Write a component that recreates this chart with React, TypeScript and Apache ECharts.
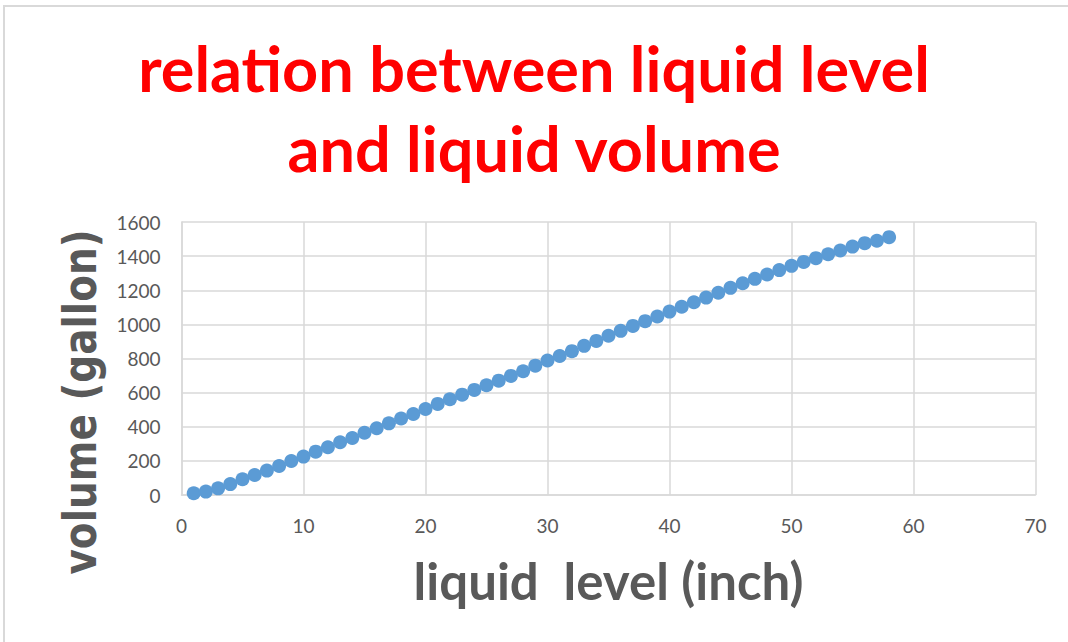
import React, { useEffect, useRef } from "react";
import * as echarts from "echarts";

const levels: number[] = [
  1, 2, 3, 4, 5, 6, 7, 8, 9, 10, 11, 12, 13, 14, 15, 16, 17, 18, 19, 20,
  21, 22, 23, 24, 25, 26, 27, 28, 29, 30, 31, 32, 33, 34, 35, 36, 37, 38, 39, 40,
  41, 42, 43, 44, 45, 46, 47, 48, 49, 50, 51, 52, 53, 54, 55, 56, 57, 58,
];
const volumes: number[] = [
  10, 20, 39, 64, 92, 117, 143, 170, 199, 225, 254, 280, 309, 334, 365, 391, 420, 448, 475, 504,
  534, 561, 588, 616, 643, 670, 698, 725, 758, 788, 815, 843, 874, 903, 933, 962, 991, 1019, 1046, 1075,
  1103, 1130, 1157, 1185, 1214, 1241, 1267, 1292, 1318, 1343, 1366, 1388, 1411, 1433, 1456, 1476, 1490, 1511,
];
const titleLines: string[] = ["relation between liquid level", "and liquid volume"];
const xTitle = "liquid  level (inch)";
const yTitle = "volume (gallon)";

export default function App() {
  const ref = useRef<HTMLDivElement>(null);
  useEffect(() => {
    if (!ref.current) return;
    const chart = echarts.init(ref.current, null, { renderer: "svg" });
    const gray = "#595959";
    chart.setOption({
      animation: false,
      backgroundColor: "#ffffff",
      title: {
        text: titleLines.join("\n"),
        left: "center",
        top: 22,
        textStyle: {
          color: "#FF0000",
          fontFamily: "Lato",
          fontWeight: "bold",
          fontSize: 63,
          lineHeight: 80,
        },
      },
      graphic: [
        {
          type: "rect",
          shape: { x: 4, y: 6, width: 1200, height: 800 },
          style: { fill: "none", stroke: "#D9D9D9", lineWidth: 2 },
          silent: true,
        },
        {
          type: "text",
          x: 80,
          y: 402,
          rotation: Math.PI / 2,
          scaleY: 1.2,
          style: {
            text: yTitle,
            fill: gray,
            font: "bold 39px 'DejaVu Sans'",
            align: "center",
            verticalAlign: "middle",
          },
          silent: true,
        },
      ],
      grid: { left: 181.5, right: 32.5, top: 222, bottom: 147, containLabel: false },
      xAxis: {
        type: "value",
        min: 0,
        max: 70,
        interval: 10,
        name: xTitle,
        nameLocation: "middle",
        nameGap: 60,
        nameTextStyle: { color: gray, fontFamily: "Lato", fontWeight: "bold", fontSize: 51 },
        axisLine: { show: true, lineStyle: { color: "#D9D9D9", width: 1.5 } },
        axisTick: { show: false },
        splitLine: { show: true, lineStyle: { color: "#D9D9D9", width: 1.5 } },
        axisLabel: { color: gray, fontFamily: "Lato", fontSize: 19, margin: 21 },
      },
      yAxis: {
        type: "value",
        min: 0,
        max: 1600,
        interval: 200,
        axisLine: { show: true, lineStyle: { color: "#D9D9D9", width: 1.5 } },
        axisTick: { show: false },
        splitLine: { show: true, lineStyle: { color: "#D9D9D9", width: 1.5 } },
        axisLabel: {
          color: gray,
          fontFamily: "Lato",
          fontSize: 19,
          margin: 21,
          formatter: (v: number) => String(v),
        },
      },
      series: [
        {
          type: "scatter",
          data: levels.map((x, i) => [x, volumes[i]]),
          symbol: "circle",
          symbolSize: 14,
          itemStyle: { color: "#5B9BD5", opacity: 1 },
        },
      ],
    });
    return () => chart.dispose();
  }, []);
  return (
    <div
      ref={ref}
      style={{ position: "absolute", left: 0, top: 0, width: 1068, height: 642 }}
    />
  );
}
